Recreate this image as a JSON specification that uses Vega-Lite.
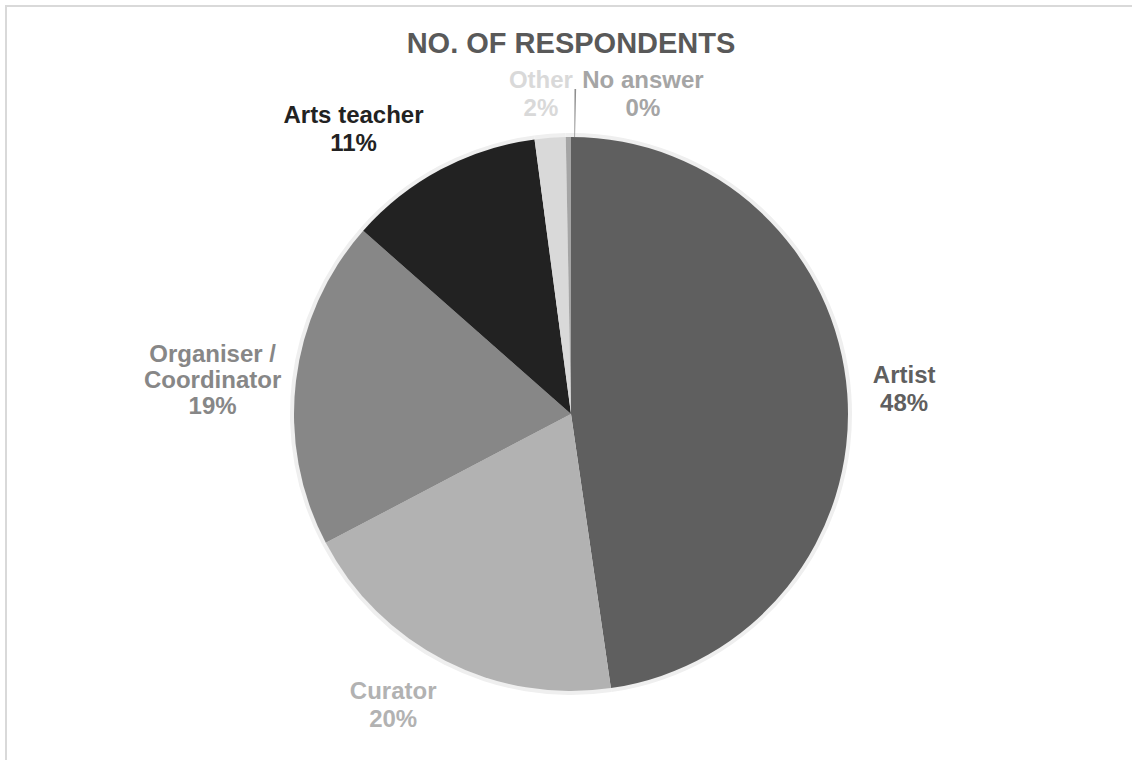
{
  "$schema": "https://vega.github.io/schema/vega-lite/v6.json",
  "width": 1130,
  "height": 816,
  "autosize": {"type": "none"},
  "padding": {"left": 6, "top": 6, "right": -4, "bottom": -62},
  "background": "white",
  "view": {"stroke": "#d9d9d9", "strokeWidth": 2, "fill": "white", "strokeDash": [1130, 1946, 816]},
  "title": {
    "text": "NO. OF RESPONDENTS",
    "font": "Liberation Sans",
    "fontSize": 29,
    "fontWeight": "bold",
    "color": "#595959",
    "anchor": "middle",
    "offset": -76,
    "baseline": "alphabetic"
  },
  "data": {
    "values": [
      {"category": "Artist", "value": 47.7, "order": 1},
      {"category": "Curator", "value": 19.6, "order": 2},
      {"category": "Organiser / Coordinator", "value": 19.2, "order": 3},
      {"category": "Arts teacher", "value": 11.4, "order": 4},
      {"category": "Other", "value": 1.8, "order": 5},
      {"category": "No answer", "value": 0.3, "order": 6}
    ]
  },
  "transform": [
    {"joinaggregate": [{"op": "sum", "field": "value", "as": "total"}]},
    {"calculate": "replace(datum.category, ' / ', ' /\\n') + '\\n' + format(datum.value / datum.total, '.0%')", "as": "label"}
  ],
  "encoding": {
    "theta": {"field": "value", "type": "quantitative", "stack": true},
    "order": {"field": "order", "type": "quantitative"},
    "color": {
      "field": "category",
      "type": "nominal",
      "scale": {
        "domain": ["Artist", "Curator", "Organiser / Coordinator", "Arts teacher", "Other", "No answer"],
        "range": ["#5f5f5f", "#b2b2b2", "#878787", "#222222", "#d9d9d9", "#a5a5a5"]
      },
      "legend": null
    }
  },
  "layer": [
    {"mark": {"type": "arc", "outerRadius": 281}, "encoding": {"color": {"value": "#efefef"}}},
    {"mark": {"type": "arc", "outerRadius": 277}},
    {
      "mark": {"type": "arc", "innerRadius": 277, "outerRadius": 325, "padAngle": 0.0105, "thetaOffset": 0.0227, "theta2Offset": 0.0227},
      "encoding": {
        "color": {"value": "#8f8f8f"},
        "fillOpacity": {"condition": {"test": "datum.category === 'No answer'", "value": 1}, "value": 0}
      }
    },
    {
      "mark": {"type": "text", "radius": 334, "dy": -14, "font": "Liberation Sans", "fontSize": 24, "fontWeight": "bold", "lineBreak": "\n", "lineHeight": 28, "align": "center", "baseline": "middle"},
      "encoding": {"text": {"condition": {"test": "datum.category === 'Artist'", "field": "label"}, "value": ""}}
    },
    {
      "mark": {"type": "text", "radius": 341, "dx": -23, "dy": -26, "font": "Liberation Sans", "fontSize": 24, "fontWeight": "bold", "lineBreak": "\n", "lineHeight": 28, "align": "center", "baseline": "middle"},
      "encoding": {"text": {"condition": {"test": "datum.category === 'Curator'", "field": "label"}, "value": ""}}
    },
    {
      "mark": {"type": "text", "radius": 361, "dy": -16, "font": "Liberation Sans", "fontSize": 24, "fontWeight": "bold", "lineBreak": "\n", "lineHeight": 26, "align": "center", "baseline": "middle"},
      "encoding": {"text": {"condition": {"test": "datum.category === 'Organiser / Coordinator'", "field": "label"}, "value": ""}}
    },
    {
      "mark": {"type": "text", "radius": 358, "dx": -49, "dy": 18, "font": "Liberation Sans", "fontSize": 24, "fontWeight": "bold", "lineBreak": "\n", "lineHeight": 28, "align": "center", "baseline": "middle"},
      "encoding": {"text": {"condition": {"test": "datum.category === 'Arts teacher'", "field": "label"}, "value": ""}}
    },
    {
      "mark": {"type": "text", "radius": 320, "dx": -6, "dy": -14, "font": "Liberation Sans", "fontSize": 24, "fontWeight": "bold", "lineBreak": "\n", "lineHeight": 28, "align": "center", "baseline": "middle"},
      "encoding": {"text": {"condition": {"test": "datum.category === 'Other'", "field": "label"}, "value": ""}}
    },
    {
      "mark": {"type": "text", "radius": 327, "dx": 75, "dy": -6, "font": "Liberation Sans", "fontSize": 24, "fontWeight": "bold", "lineBreak": "\n", "lineHeight": 28, "align": "center", "baseline": "middle"},
      "encoding": {"text": {"condition": {"test": "datum.category === 'No answer'", "field": "label"}, "value": ""}}
    }
  ]
}
